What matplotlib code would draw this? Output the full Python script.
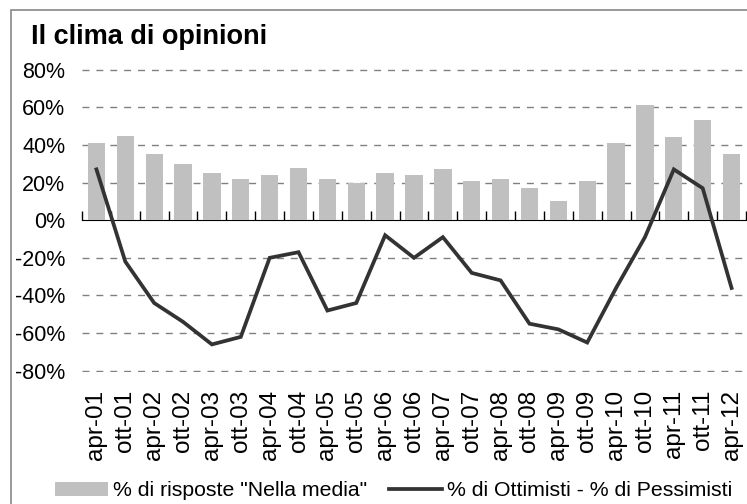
import matplotlib
matplotlib.use("Agg")
import matplotlib.pyplot as plt
from matplotlib.patches import Rectangle
import numpy as np

categories = ["apr-01", "ott-01", "apr-02", "ott-02", "apr-03", "ott-03", "apr-04", "ott-04",
              "apr-05", "ott-05", "apr-06", "ott-06", "apr-07", "ott-07", "apr-08", "ott-08",
              "apr-09", "ott-09", "apr-10", "ott-10", "apr-11", "ott-11", "apr-12"]
nella_media = [41, 45, 35, 30, 25, 22, 24, 28, 22, 20, 25, 24, 27, 21, 22, 17, 10, 21, 41, 61, 44, 53, 35]
saldo = [27, -22, -44, -54, -66, -62, -20, -17, -48, -44, -8, -20, -9, -28, -32, -55, -58, -65,
         -36, -9, 27, 17, -36]
ytick_vals = [-80, -60, -40, -20, 0, 20, 40, 60, 80]
title = "Il clima di opinioni"
label_bar = '% di risposte "Nella media"'
label_line = "% di Ottimisti - % di Pessimisti"

plt.rcParams['font.family'] = ['Liberation Sans', 'DejaVu Sans']

W, H = 747, 504
fig = plt.figure(figsize=(W / 100, H / 100), dpi=100)
ax_left, ax_right = 82 / W, 746 / W
ax_top, ax_bot = 1 - 68.7 / H, 1 - 371.7 / H
ax = fig.add_axes([ax_left, ax_bot, ax_right - ax_left, ax_top - ax_bot])

x = np.arange(len(categories))
bars = ax.bar(x, nella_media, width=0.6, color="#c0c0c0", zorder=2, label=label_bar)
line, = ax.plot(x, saldo, color="#333333", lw=2.7, zorder=3, solid_joinstyle="miter", label=label_line)

ax.set_xlim(-0.5, len(categories) - 0.5)
ax.set_ylim(-80.5, 80.5)
ax.set_yticks(ytick_vals)
ax.set_yticklabels([f"{v}%" for v in ytick_vals], fontsize=15.5)
ax.tick_params(axis="y", length=0, pad=12)
for v in ytick_vals:
    if v != 0:
        ax.axhline(v, color="#808080", lw=1, dashes=(5, 5), zorder=1)

ax.set_xticks(x)
ax.set_xticklabels(categories, rotation=90, fontsize=17.5, va="top")
ax.tick_params(axis="x", length=0, pad=13)
for s in ax.spines.values():
    s.set_visible(False)

sec = ax.secondary_xaxis(0.5)
sec.set_xticks(np.arange(len(categories) + 1) - 0.5)
sec.set_xticklabels([])
sec.tick_params(axis="x", direction="out", length=6.5, width=1, color="black")
sec.spines["bottom"].set_linewidth(1.2)
sec.spines["bottom"].set_color("black")

fig.text(31 / W, 1 - 44 / H, title, fontsize=19.5, fontweight="bold", va="baseline", ha="left")

fig.legend(handles=[bars, line], labels=[label_bar, label_line], loc="center",
           bbox_to_anchor=(0.527, 1 - 491 / H), ncol=2, frameon=False, fontsize=15.3,
           handlelength=2.5, handleheight=0.68, handletextpad=0.25, columnspacing=1.0,
           borderpad=0, borderaxespad=0)

fig.add_artist(Rectangle((10.5 / W, -0.1), 1.2, 1.1 - 10.5 / H, transform=fig.transFigure,
                         fill=False, edgecolor="#888888", lw=1.2))

fig.savefig("out.png", dpi=100)
